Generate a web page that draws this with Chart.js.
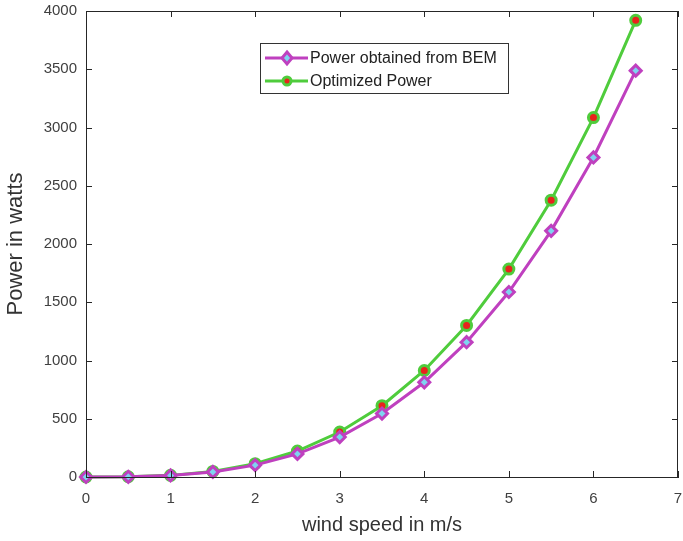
<!DOCTYPE html>
<html lang="en">
  <head>
    <meta charset="UTF-8" />
    <title>Power vs wind speed</title>
    <script src="https://cdn.jsdelivr.net/npm/chart.js"></script>
    <style>
      html, body { margin: 0; padding: 0; background: #fff; overflow: hidden; }
      #wrap { width: 683px; height: 541px; position: relative; }
    </style>
  </head>
  <body>
    <div id="wrap"><canvas id="powerChart"></canvas></div>
    <script>
      // wind speed (m/s)
      const windSpeed = [0, 0.5, 1, 1.5, 2, 2.5, 3, 3.5, 4, 4.5, 5, 5.5, 6, 6.5];
      // power (W)
      const powerBEM = [0, 2, 13, 43, 102, 198, 343, 545, 813, 1157, 1588, 2113, 2743, 3488];
      const powerOptimized = [0, 2, 14, 48, 114, 223, 386, 612, 914, 1301, 1785, 2376, 3085, 3920];
      const seriesLabels = ["Power obtained from BEM", "Optimized Power"];

      const magenta = "#bf40bf";
      const green = "#4fcc3c";
      const axisColor = "#262626";
      const textColor = "#404040";

      // MATLAB style inward ticks on all four sides + box
      const boxTicks = {
        id: "boxTicks",
        afterDraw(chart) {
          const { ctx, chartArea: a, scales } = chart;
          ctx.save();
          ctx.strokeStyle = axisColor;
          ctx.lineWidth = 1;
          ctx.strokeRect(a.left + 0.5, a.top + 0.5, a.right - a.left - 1, a.bottom - a.top);
          ctx.beginPath();
          scales.x.ticks.forEach((t) => {
            const px = Math.round(scales.x.getPixelForValue(t.value)) + 0.5;
            ctx.moveTo(px, a.bottom); ctx.lineTo(px, a.bottom - 6);
            ctx.moveTo(px, a.top); ctx.lineTo(px, a.top + 6);
          });
          scales.y.ticks.forEach((t) => {
            const py = Math.round(scales.y.getPixelForValue(t.value)) + 0.5;
            ctx.moveTo(a.left, py); ctx.lineTo(a.left + 6, py);
            ctx.moveTo(a.right, py); ctx.lineTo(a.right - 6, py);
          });
          ctx.stroke();
          ctx.restore();
        },
      };

      // legend box inside the plot area
      const innerLegend = {
        id: "innerLegend",
        afterDraw(chart) {
          const { ctx } = chart;
          const x0 = 260, y0 = 43, w = 248, h = 50;
          ctx.save();
          ctx.fillStyle = "#fff";
          ctx.fillRect(x0, y0, w, h);
          ctx.strokeStyle = "#333";
          ctx.lineWidth = 1;
          ctx.strokeRect(x0 + 0.5, y0 + 0.5, w, h);
          ctx.font = "16px 'Liberation Sans', Arial, sans-serif";
          ctx.textBaseline = "middle";
          chart.data.datasets.forEach((ds, i) => {
            const y = y0 + 15 + i * 23;
            ctx.strokeStyle = ds.borderColor;
            ctx.lineWidth = 3;
            ctx.beginPath();
            ctx.moveTo(x0 + 5, y); ctx.lineTo(x0 + 48, y);
            ctx.stroke();
            const cx = x0 + 27;
            ctx.fillStyle = ds.pointBackgroundColor;
            ctx.strokeStyle = ds.pointBorderColor;
            ctx.lineWidth = ds.pointBorderWidth;
            ctx.beginPath();
            if (ds.pointStyle === "rectRot") {
              const r = 5;
              ctx.moveTo(cx, y - r - 1); ctx.lineTo(cx + r, y); ctx.lineTo(cx, y + r + 1); ctx.lineTo(cx - r, y);
              ctx.closePath();
            } else {
              ctx.arc(cx, y, 4, 0, Math.PI * 2);
            }
            ctx.fill(); ctx.stroke();
            ctx.fillStyle = "#222";
            ctx.fillText(ds.label, x0 + 50, y + 1);
          });
          ctx.restore();
        },
      };

      const tickFont = { size: 15, family: "'Liberation Sans', Arial" };

      new Chart(document.getElementById("powerChart"), {
        type: "line",
        data: {
          labels: windSpeed,
          datasets: [
            {
              label: seriesLabels[0],
              data: windSpeed.map((v, i) => ({ x: v, y: powerBEM[i] })),
              borderColor: magenta,
              borderWidth: 3,
              pointStyle: "rectRot",
              pointRadius: 5.5,
              pointBackgroundColor: "#7fd3f0",
              pointBorderColor: magenta,
              pointBorderWidth: 3,
              clip: false,
            },
            {
              label: seriesLabels[1],
              data: windSpeed.map((v, i) => ({ x: v, y: powerOptimized[i] })),
              borderColor: green,
              borderWidth: 3,
              pointStyle: "circle",
              pointRadius: 5,
              pointBackgroundColor: "#e8231c",
              pointBorderColor: green,
              pointBorderWidth: 3,
              clip: false,
            },
          ],
        },
        options: {
          responsive: true,
          maintainAspectRatio: false,
          animation: false,
          layout: { autoPadding: false, padding: { left: 0, right: 5, top: 11, bottom: 0 } },
          plugins: { legend: { display: false }, tooltip: { enabled: false } },
          scales: {
            x: {
              type: "linear",
              min: 0,
              max: 7,
              ticks: { stepSize: 1, color: textColor, padding: 13, font: tickFont, callback: (v) => String(v) },
              grid: { drawOnChartArea: false, drawTicks: false },
              border: { color: axisColor },
              title: { display: true, text: "wind speed in m/s", color: "#333", font: { size: 20, family: "'Liberation Sans', Arial" }, padding: { top: 0, bottom: 4 } },
              afterFit: (s) => { s.height = 64; s.paddingLeft = 0; s.paddingRight = 0; },
            },
            y: {
              min: 0,
              max: 4000,
              ticks: { stepSize: 500, color: textColor, padding: 9, font: tickFont, callback: (v) => String(v) },
              grid: { drawOnChartArea: false, drawTicks: false },
              border: { color: axisColor },
              title: { display: true, text: "Power in watts", color: "#333", font: { size: 22, family: "'Liberation Sans', Arial" }, padding: { top: 3 } },
              afterFit: (s) => { s.width = 86; s.paddingTop = 0; s.paddingBottom = 0; },
            },
          },
        },
        plugins: [boxTicks, innerLegend],
      });
    </script>
  </body>
</html>
